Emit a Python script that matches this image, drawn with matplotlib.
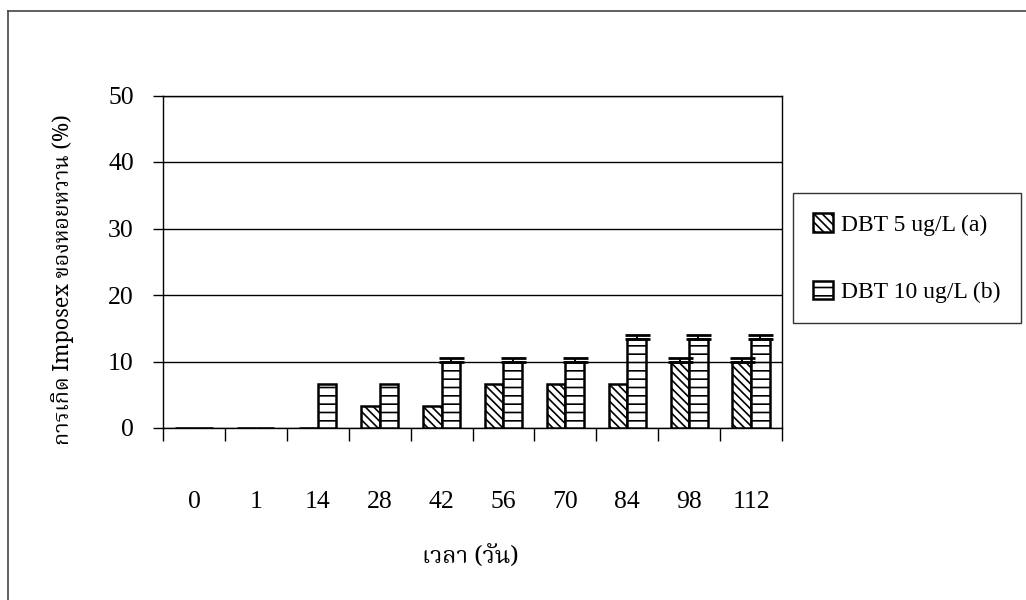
import numpy as np
import matplotlib
matplotlib.use("Agg")
import matplotlib.pyplot as plt
from matplotlib import font_manager, ft2font
from matplotlib.lines import Line2D


DAYS = ["0", "1", "14", "28", "42", "56", "70", "84", "98", "112"]
DBT5 = [0, 0, 0, 3.33, 3.33, 6.67, 6.67, 6.67, 10, 10]
DBT10 = [0, 0, 6.67, 6.67, 10, 10, 10, 13.33, 13.33, 13.33]
DBT5_ERR = [0, 0, 0, 0, 0, 0, 0, 0, 0.6, 0.6]
DBT10_ERR = [0, 0, 0, 0, 0.6, 0.6, 0.6, 0.6, 0.6, 0.6]

SERIES_LABELS = ["DBT 5 ug/L (a)", "DBT 10 ug/L (b)"]
Y_LABEL = "การเกิด Imposex ของหอยหวาน (%)"
X_LABEL = "เวลา (วัน)"

PREFERRED_THAI = ["Noto Serif Thai", "Norasi", "Kinnari", "Laksaman", "Garuda",
                  "Loma", "Noto Sans Thai", "Noto Sans Thai Looped"]


def find_thai_font():
    # collect installed fonts that actually have Thai glyphs
    found = []
    for f in font_manager.fontManager.ttflist:
        try:
            cmap = ft2font.FT2Font(f.fname).get_charmap()
        except Exception:
            continue
        if 0x0E01 in cmap and 0x0E27 in cmap:
            found.append(f.name)
    for name in PREFERRED_THAI:
        if name in found:
            return name
    return found[0] if found else None


def draw_errors(ax, xs, vals, errs):
    # only bars that really have an error value get a whisker
    xs = np.asarray(xs)
    vals = np.asarray(vals)
    errs = np.asarray(errs)
    keep = errs > 0
    ax.errorbar(xs[keep], vals[keep], yerr=[np.zeros(keep.sum()), errs[keep]],
                fmt="none", ecolor="black", elinewidth=1.4, capsize=9,
                capthick=2.0, zorder=4)


thai_font = find_thai_font()
serif = ["Liberation Serif", "DejaVu Serif"]
thai_family = ([thai_font] if thai_font else []) + serif

plt.rcParams["font.family"] = serif
plt.rcParams["hatch.linewidth"] = 1.2
plt.rcParams["hatch.color"] = "black"

fig = plt.figure(figsize=(10.26, 6.0), dpi=100)
ax = fig.add_axes([163 / 1026, 1 - 428 / 600, (782 - 163) / 1026, (428 - 95.5) / 600])

x = np.arange(len(DAYS))
w = 0.3

ax.bar(x - w / 2, DBT5, w, color="white", edgecolor="black", linewidth=1.8,
       hatch="\\\\\\\\", label=SERIES_LABELS[0], zorder=3)
ax.bar(x + w / 2, DBT10, w, color="white", edgecolor="black", linewidth=1.8,
       hatch="--", label=SERIES_LABELS[1], zorder=3)

draw_errors(ax, x - w / 2, DBT5, DBT5_ERR)
draw_errors(ax, x + w / 2, DBT10, DBT10_ERR)

ax.set_xlim(-0.5, len(DAYS) - 0.5)
ax.set_ylim(0, 50)
ax.set_yticks(range(0, 51, 10))
ax.yaxis.grid(True, color="black", linewidth=1.0, zorder=0)
ax.set_axisbelow(True)

# category ticks sit between groups, labels at group centres
ax.set_xticks(np.arange(len(DAYS) + 1) - 0.5)
ax.set_xticklabels([])
ax.set_xticks(x, minor=True)
ax.set_xticklabels(DAYS, minor=True, fontsize=18.5)
ax.tick_params(axis="x", which="major", direction="out", length=9, width=1.0)
ax.tick_params(axis="x", which="minor", length=0, pad=45)
ax.tick_params(axis="y", direction="out", length=7, width=1.0, labelsize=18.5, pad=14)

for side in ["left", "right", "top", "bottom"]:
    ax.spines[side].set_linewidth(1.0)
    ax.spines[side].set_color("black")

fig.text(63 / 1026, 1 - 280 / 600, Y_LABEL, rotation=90, ha="center", va="center",
         fontsize=15.5, family=thai_family)
fig.text(470 / 1026, 1 - 557 / 600, X_LABEL, ha="center", va="center",
         fontsize=17, family=thai_family)

leg = fig.legend(loc="upper left", bbox_to_anchor=(793 / 1026, 1 - 193 / 600),
                 fontsize=17, frameon=True, fancybox=False, edgecolor="black",
                 handlelength=0.85, handleheight=0.85, handletextpad=0.35,
                 labelspacing=1.9, borderpad=0.85, borderaxespad=0)
leg.get_frame().set_linewidth(1.0)

# outer chart frame (only top and left are inside the scan)
fig.add_artist(Line2D([8 / 1026, 1.0], [1 - 11 / 600, 1 - 11 / 600],
                      transform=fig.transFigure, color="#444444", linewidth=1.2))
fig.add_artist(Line2D([8 / 1026, 8 / 1026], [0.0, 1 - 11 / 600],
                      transform=fig.transFigure, color="#444444", linewidth=1.2))

fig.savefig("out.png", dpi=100)
